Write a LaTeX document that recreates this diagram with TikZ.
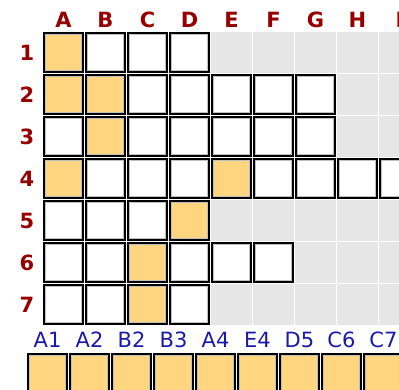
\documentclass[tikz,border=0pt]{standalone}
\usepackage{fontspec}
\setmainfont{DejaVu Sans}

\definecolor{tileorange}{RGB}{255,213,127}
\definecolor{headred}{RGB}{150,0,0}
\definecolor{seqblue}{RGB}{25,25,170}
\definecolor{bggray}{RGB}{230,230,230}

\tikzset{
  bgcell/.style={fill=bggray, minimum size=40.6pt, inner sep=0pt},
  tile/.style={draw=black, line width=1.8pt, fill=white, minimum size=38.8pt, inner sep=0pt,
    path picture={\draw[gray!50, line width=1.4pt]
      ([shift={(1.6pt,-1.6pt)}]path picture bounding box.north west) rectangle
      ([shift={(-1.6pt,1.6pt)}]path picture bounding box.south east);}},
  picked/.style={tile, fill=tileorange},
  head/.style={text=headred, font=\bfseries\fontsize{21}{21}\selectfont, inner sep=0pt},
  seqlab/.style={text=seqblue, font=\fontsize{21}{21}\selectfont, inner sep=0pt}
}

\begin{document}
\begin{tikzpicture}[x=1pt,y=-1pt]
  \clip (0,0) rectangle (399,389);
  % board background
  \foreach \l [count=\c from 0] in {A,B,C,D,E,F,G,H,I}{
    \node[head] (col\l) at (63.5+42*\c,20) {\l};
    \foreach \r in {1,...,7}
      \node[bgcell] (g\l\r) at (63.5+42*\c,10.5+42*\r) {};
  }
  \foreach \r in {1,...,7}
    \node[head] (row\r) at (27,10.5+42*\r) {\r};
  % white tiles
  \foreach \l/\r in {B/1,C/1,D/1,C/2,D/2,E/2,F/2,G/2,A/3,C/3,D/3,E/3,F/3,G/3,
                     B/4,C/4,D/4,F/4,G/4,H/4,I/4,A/5,B/5,C/5,A/6,B/6,D/6,E/6,F/6,
                     A/7,B/7,D/7}
    \node[tile] (t\l\r) at (g\l\r) {};
  % picked tiles
  \foreach \l/\r in {A/1,A/2,B/2,B/3,A/4,E/4,D/5,C/6,C/7}
    \node[picked] (t\l\r) at (g\l\r) {};
  % sequence below the board
  \foreach \s [count=\k from 0] in {A1,A2,B2,B3,A4,E4,D5,C6,C7}{
    \node[seqlab] (lab\s) at (47.5+42*\k,340) {\s};
    \node[picked] (seq\s) at (47.5+42*\k,373.5) {};
  }
\end{tikzpicture}
\end{document}
